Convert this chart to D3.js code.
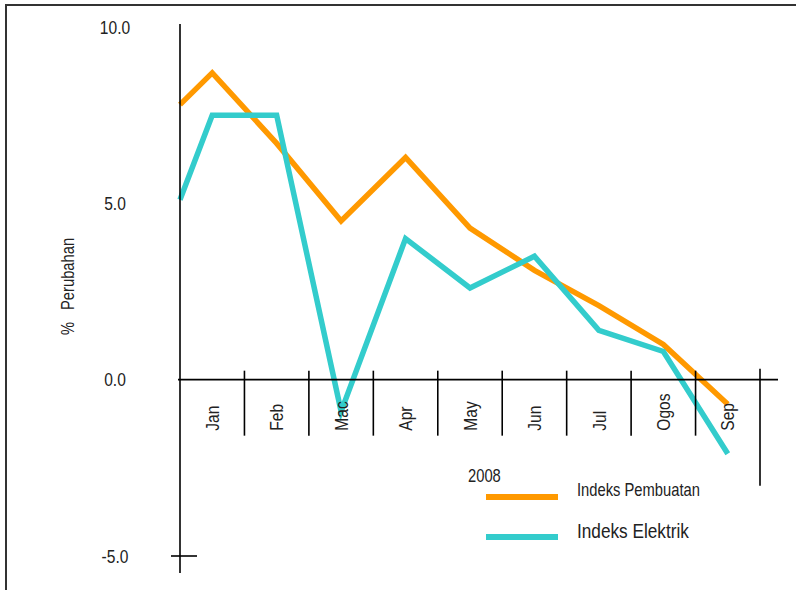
<!DOCTYPE html>
<html>
<head>
<meta charset="utf-8">
<script src="https://cdn.jsdelivr.net/npm/d3@7"></script>
<style>
  body { margin: 0; background: #fff; }
  svg text { font-family: "Liberation Sans", Arial, sans-serif; fill: #222; }
</style>
</head>
<body>
<div id="chart"></div>
<script>
// months of 2008; the first value of each series sits on the y axis (Dis 2007)
const months = ["Jan", "Feb", "Mac", "Apr", "May", "Jun", "Jul", "Ogos", "Sep"];
const pembuatanAwal = 7.8;
const pembuatan = [8.7, 6.7, 4.5, 6.3, 4.3, 3.1, 2.1, 1.0, -0.7];
const elektrikAwal = 5.1;
const elektrik = [7.5, 7.5, -0.9, 4.0, 2.6, 3.5, 1.4, 0.8, -2.1];
const yTicks = [10, 5, 0, -5];
const seriesNames = ["Indeks Pembuatan", "Indeks Elektrik"];
const yearLabel = "2008";

const W = 796, H = 590;
const colors = ["#ff9900", "#33cccc"];
// the original uses a narrow sans; squeeze Liberation Sans horizontally
const squeeze = " scale(0.82,1)";

const svg = d3.select("#chart").append("svg")
  .attr("width", W)
  .attr("height", H);

// outer frame (open to the right and bottom)
svg.append("path")
  .attr("d", "M6,590 L6,5 L796,5")
  .attr("fill", "none")
  .attr("stroke", "#333")
  .attr("stroke-width", 2);

const x = d3.scaleBand().domain(months).range([180, 760]).padding(0);
const y = d3.scaleLinear().domain([-5, 10]).range([556, 27]);
const bw = x.bandwidth();
const y0 = y(0);

// lines
function points(start, vals) {
  return [{ px: x.range()[0], v: start }].concat(
    months.map((m, i) => ({ px: x(m) + bw / 2, v: vals[i] }))
  );
}

const line = d3.line()
  .x(d => d.px)
  .y(d => y(d.v));

const series = [points(pembuatanAwal, pembuatan), points(elektrikAwal, elektrik)];

svg.selectAll(".series")
  .data(series)
  .enter()
  .append("path")
  .attr("class", "series")
  .attr("d", line)
  .attr("fill", "none")
  .attr("stroke", (d, i) => colors[i])
  .attr("stroke-width", 5.5)
  .attr("stroke-linejoin", "miter");

// y axis
svg.append("line")
  .attr("x1", x.range()[0]).attr("x2", x.range()[0])
  .attr("y1", y(10) - 3).attr("y2", y(-5) + 17)
  .attr("stroke", "#000").attr("stroke-width", 1.6);

svg.append("line")
  .attr("x1", x.range()[0] - 9).attr("x2", x.range()[0] + 17)
  .attr("y1", y(-5)).attr("y2", y(-5))
  .attr("stroke", "#000").attr("stroke-width", 1.6);

svg.selectAll(".ytick")
  .data(yTicks)
  .enter()
  .append("text")
  .attr("class", "ytick")
  .attr("transform", d => "translate(115," + y(d) + ")" + squeeze)
  .attr("dy", "0.35em")
  .attr("text-anchor", "middle")
  .style("font-size", "19px")
  .text(d => d3.format(".1f")(d).replace("\u2212", "-"));

// x axis and dividers
svg.append("line")
  .attr("x1", x.range()[0] - 2).attr("x2", 778)
  .attr("y1", y0).attr("y2", y0)
  .attr("stroke", "#000").attr("stroke-width", 1.6);

svg.selectAll(".divider")
  .data(months)
  .enter()
  .append("line")
  .attr("class", "divider")
  .attr("x1", d => x(d) + bw).attr("x2", d => x(d) + bw)
  .attr("y1", (d, i) => i === months.length - 1 ? y0 - 11 : y0 - 9)
  .attr("y2", (d, i) => i === months.length - 1 ? y0 + 106 : y0 + 56)
  .attr("stroke", "#000").attr("stroke-width", 1.6);

svg.selectAll(".month")
  .data(months)
  .enter()
  .append("text")
  .attr("class", "month")
  .attr("transform", d => "translate(" + (x(d) + bw / 2) + "," + (y0 + 51) + ") rotate(-90)" + squeeze)
  .attr("dy", "0.35em")
  .attr("text-anchor", "start")
  .style("font-size", "19px")
  .text(d => d);

// axis title
svg.append("text")
  .attr("transform", "translate(74,335) rotate(-90)" + squeeze)
  .style("font-size", "18px")
  .text("%");

svg.append("text")
  .attr("transform", "translate(74,310) rotate(-90)" + squeeze)
  .style("font-size", "18px")
  .text("Perubahan");

// legend
svg.append("text")
  .attr("transform", "translate(468,482)" + squeeze)
  .style("font-size", "18px")
  .text(yearLabel);

const legend = svg.selectAll(".legend")
  .data(seriesNames)
  .enter()
  .append("g")
  .attr("class", "legend")
  .attr("transform", (d, i) => "translate(486," + (497 + i * 40) + ")");

legend.append("line")
  .attr("x1", 0).attr("x2", 72)
  .attr("y1", 0).attr("y2", 0)
  .attr("stroke", (d, i) => colors[i])
  .attr("stroke-width", 6);

legend.append("text")
  .attr("transform", (d, i) => "translate(91," + (i === 0 ? -1 : 1) + ")" + squeeze)
  .style("font-size", (d, i) => i === 0 ? "18px" : "21px")
  .text(d => d);
</script>
</body>
</html>
